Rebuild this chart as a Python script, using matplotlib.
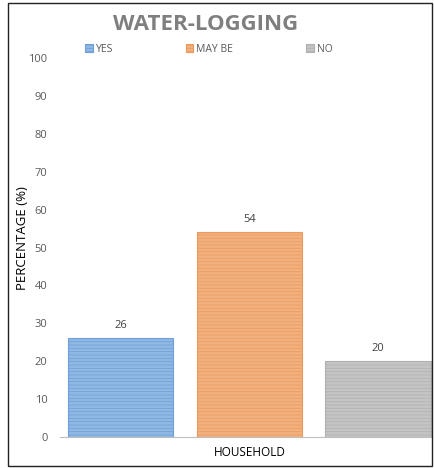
import matplotlib
matplotlib.use("Agg")
import matplotlib.pyplot as plt
from matplotlib.patches import Rectangle

categories = ["YES", "MAY BE", "NO"]
values = [26, 54, 20]
yticks = [0, 10, 20, 30, 40, 50, 60, 70, 80, 90, 100]

face_colors = ["#8fb8e4", "#f2b07e", "#c4c4c4"]
edge_colors = ["#6e9fd6", "#ec9a5c", "#b0b0b0"]

plt.rcParams["font.family"] = ["Open Sans", "DejaVu Sans"]
plt.rcParams["hatch.color"] = "#ffffff"
plt.rcParams["hatch.linewidth"] = 0.5

fig = plt.figure(figsize=(4.34, 4.68), dpi=100)
fig.patch.set_facecolor("white")

# outer frame around the chart
fig.patches.append(Rectangle((8 / 434, 2 / 468), 424 / 434, 463 / 468,
                             transform=fig.transFigure, fill=False,
                             edgecolor="#222222", linewidth=1.0))

ax = fig.add_axes([60 / 434, (468 - 437) / 468, 372 / 434, 379 / 468])

positions = list(range(len(categories)))
bars = ax.bar(positions, values, width=0.817, color=face_colors,
              edgecolor=edge_colors, linewidth=0.8, hatch="-----",
              label=categories, zorder=2)

for x, v in zip(positions, values):
    ax.text(x, v + 2, str(v), ha="center", va="bottom",
            fontsize=8, color="#404040")

ax.set_xlim(-0.47, 2.42)
ax.set_ylim(0, 100)
ax.set_yticks(yticks)
ax.set_yticklabels([str(t) for t in yticks], fontsize=8, color="#595959")
ax.set_xticks([])
ax.tick_params(axis="y", length=0, pad=9)

for side in ["top", "right", "left"]:
    ax.spines[side].set_visible(False)
ax.spines["bottom"].set_color("#bfbfbf")
ax.spines["bottom"].set_linewidth(0.8)

fig.text(23 / 434, 1 - 238 / 468, "PERCENTAGE (%)", rotation=90,
         ha="center", va="center", fontsize=9.5, color="#000000")
fig.text(250 / 434, 1 - 453 / 468, "HOUSEHOLD", ha="center", va="center",
         fontsize=8.5, color="#000000")

fig.text(206 / 434, 1 - 25 / 468, "WATER-LOGGING", ha="center", va="center",
         fontsize=16, fontweight="bold", color="#7f7f7f")

leg = fig.legend(handles=bars.patches, labels=categories, loc="center left",
                 bbox_to_anchor=(76 / 434, 1 - 49 / 468), ncol=3,
                 frameon=False, fontsize=7.5, handlelength=0.7,
                 handleheight=0.7, handletextpad=0.3, columnspacing=7.0,
                 labelcolor="#595959")

fig.savefig("out.png", dpi=100, facecolor="white")
